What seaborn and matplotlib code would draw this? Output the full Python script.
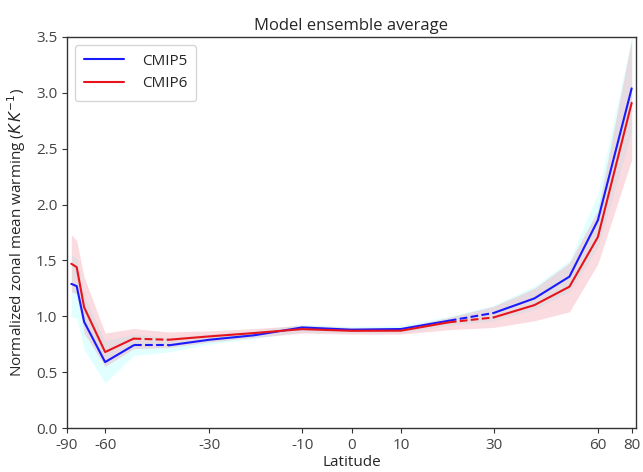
import numpy as np
import pandas as pd
import matplotlib
matplotlib.use("Agg")
import matplotlib.pyplot as plt
import seaborn as sns

# Latitudes of the ensemble-mean profile (degrees north)
lats = [-80, -75, -70, -60, -50, -40, -30, -20, -10, 0, 10, 20, 30, 40, 50, 60, 80]

# Ensemble means (K per K of global warming)
cmip5_mean = [1.29, 1.27, 0.95, 0.59, 0.74, 0.74, 0.79, 0.83, 0.90, 0.88, 0.886, 0.96, 1.03, 1.16, 1.355, 1.86, 3.04]
cmip6_mean = [1.47, 1.44, 1.08, 0.68, 0.80, 0.79, 0.82, 0.85, 0.885, 0.87, 0.871, 0.946, 0.99, 1.10, 1.265, 1.71, 2.91]

# Spread across models (lower / upper bounds)
cmip5_lo = [1.00, 0.98, 0.70, 0.40, 0.65, 0.68, 0.75, 0.80, 0.86, 0.85, 0.85, 0.92, 0.96, 1.06, 1.22, 1.62, 2.65]
cmip5_hi = [1.55, 1.52, 1.18, 0.78, 0.84, 0.81, 0.84, 0.87, 0.93, 0.91, 0.92, 1.00, 1.10, 1.27, 1.50, 2.10, 3.50]
cmip6_lo = [1.22, 1.20, 0.85, 0.55, 0.71, 0.72, 0.77, 0.81, 0.85, 0.84, 0.84, 0.88, 0.90, 0.96, 1.04, 1.47, 2.40]
cmip6_hi = [1.73, 1.68, 1.35, 0.85, 0.89, 0.86, 0.87, 0.89, 0.92, 0.90, 0.90, 0.99, 1.09, 1.25, 1.48, 1.95, 3.48]

xtick_lats = [-90, -60, -30, -10, 0, 10, 30, 60, 80]
yticks = [0.0, 0.5, 1.0, 1.5, 2.0, 2.5, 3.0, 3.5]

# Solid pieces and dashed connectors across data gaps (index ranges into lats)
solid_pieces = [(0, 4), (5, 11), (12, 16)]
dashed_pieces = [(4, 5), (11, 12)]

sns.set_style("ticks")
plt.rcParams["font.family"] = ["Open Sans", "DejaVu Sans"]
plt.rcParams["mathtext.fontset"] = "dejavusans"

fig = plt.figure(figsize=(6.43, 4.72), dpi=100)
ax = fig.add_axes([67 / 643, 1 - 428 / 472, (636 - 67) / 643, (428 - 37) / 472])

# Latitude axis is linear in sin(latitude), i.e. area-weighted
x = np.sin(np.deg2rad(lats))

series = [
    ("CMIP5", cmip5_mean, cmip5_lo, cmip5_hi, "#1a1aff", "#7fffff", 0.22),
    ("CMIP6", cmip6_mean, cmip6_lo, cmip6_hi, "#e8141c", "#f08090", 0.28),
]

for name, mean, lo, hi, col, band_col, alpha in series:
    ax.fill_between(x, lo, hi, color=band_col, alpha=alpha, linewidth=0)

for name, mean, lo, hi, col, band_col, alpha in series:
    df = pd.DataFrame({"x": x, "y": mean})
    for k, (i0, i1) in enumerate(solid_pieces):
        part = df.iloc[i0:i1 + 1]
        sns.lineplot(data=part, x="x", y="y", ax=ax, color=col, lw=1.5,
                     label=name if k == 0 else None, sort=False, estimator=None)
    for i0, i1 in dashed_pieces:
        part = df.iloc[i0:i1 + 1]
        sns.lineplot(data=part, x="x", y="y", ax=ax, color=col, lw=1.5,
                     linestyle="--", sort=False, estimator=None)

ax.set_xlim(-1, 1)
ax.set_ylim(0, 3.5)
ax.set_xticks(np.sin(np.deg2rad(xtick_lats)))
ax.set_xticklabels([str(v) for v in xtick_lats])
ax.set_yticks(yticks)
ax.set_yticklabels([f"{v:.1f}" for v in yticks])
ax.tick_params(labelsize=11, colors="#333333", labelcolor="#444444")
for s in ax.spines.values():
    s.set_color("#333333")
    s.set_linewidth(1.0)

ax.set_title("Model ensemble average", fontsize=12, pad=5)
ax.set_xlabel("Latitude", fontsize=11, labelpad=2)
ax.set_ylabel("Normalized zonal mean warming ($K\\,K^{-1}$)", fontsize=11, labelpad=6)

ax.legend(loc="upper left", fontsize=11, frameon=True, handlelength=2.6,
          handletextpad=1.2, borderpad=0.6, borderaxespad=0.5)

fig.savefig("out.png", dpi=100)
